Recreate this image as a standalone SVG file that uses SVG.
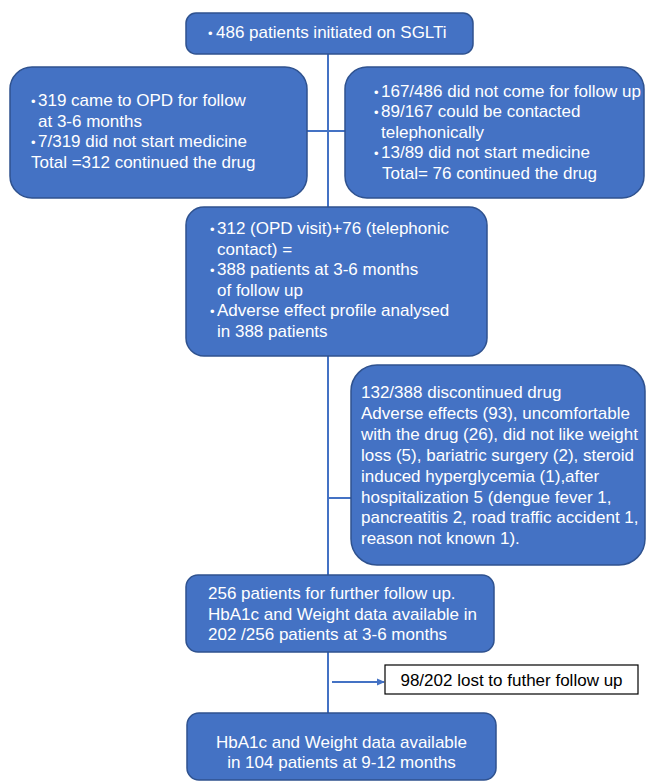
<svg xmlns="http://www.w3.org/2000/svg" width="646" height="784" viewBox="0 0 646 784">
<style>
.box{fill:#4472C4;stroke:#2F528F;stroke-width:1.5}
.t{font-family:"Liberation Sans",Arial,sans-serif;font-size:17px;fill:#FFFFFF}
.k{font-family:"Liberation Sans",Arial,sans-serif;font-size:17px;fill:#000000}
.b{font-size:13px}
.c{stroke:#4472C4;stroke-width:2;fill:none}
</style>
<defs>
<marker id="ah" markerWidth="8" markerHeight="8" refX="7" refY="4" orient="auto" markerUnits="userSpaceOnUse">
<path d="M0,0.5 L8,4 L0,7.5 Z" fill="#4472C4"/>
</marker>
</defs>
<rect width="646" height="784" fill="#FFFFFF"/>
<g id="connectors">
<line class="c" x1="328" y1="54" x2="328" y2="713"/>
<line class="c" x1="307" y1="131" x2="345" y2="131"/>
<line class="c" x1="328" y1="498" x2="351" y2="498"/>
<line class="c" x1="332" y1="682" x2="384" y2="682" marker-end="url(#ah)"/>
</g>
<g id="n1">
<rect class="box" x="186" y="13" width="287" height="41" rx="10"/>
<text class="t" x="208" y="38"><tspan class="b">•</tspan><tspan x="216">486 patients initiated on SGLTi</tspan></text>
</g>
<g id="n2">
<rect class="box" x="10" y="67" width="297" height="131" rx="22"/>
<text class="t" x="31" y="106"><tspan class="b">•</tspan><tspan x="38">319 came to OPD for follow</tspan></text>
<text class="t" x="38" y="126.5">at 3-6 months</text>
<text class="t" x="31" y="147"><tspan class="b">•</tspan><tspan x="38">7/319 did not start medicine</tspan></text>
<text class="t" x="31" y="168">Total =312 continued the drug</text>
</g>
<g id="n3">
<rect class="box" x="345" y="67" width="299" height="131" rx="22"/>
<text class="t" x="374" y="97"><tspan class="b">•</tspan><tspan x="381">167/486 did not come for follow up</tspan></text>
<text class="t" x="374" y="117"><tspan class="b">•</tspan><tspan x="381">89/167 could be contacted</tspan></text>
<text class="t" x="381" y="137.5">telephonically</text>
<text class="t" x="374" y="158"><tspan class="b">•</tspan><tspan x="381">13/89 did not start medicine</tspan></text>
<text class="t" x="382" y="178.5">Total= 76 continued the drug</text>
</g>
<g id="n4">
<rect class="box" x="186" y="207" width="301" height="149" rx="18"/>
<text class="t" x="210" y="234"><tspan class="b">•</tspan><tspan x="217">312 (OPD visit)+76 (telephonic</tspan></text>
<text class="t" x="217" y="254.5">contact) =</text>
<text class="t" x="210" y="275"><tspan class="b">•</tspan><tspan x="217">388 patients at 3-6 months</tspan></text>
<text class="t" x="217" y="295.5">of follow up</text>
<text class="t" x="210" y="316"><tspan class="b">•</tspan><tspan x="217">Adverse effect profile analysed</tspan></text>
<text class="t" x="217" y="336.5">in 388 patients</text>
</g>
<g id="n5">
<rect class="box" x="351" y="365" width="294" height="200" rx="26"/>
<text class="t" x="361" y="398">132/388 discontinued drug</text>
<text class="t" x="361" y="419">Adverse effects (93), uncomfortable</text>
<text class="t" x="361" y="440">with the drug (26), did not like weight</text>
<text class="t" x="361" y="461">loss (5), bariatric surgery (2), steroid</text>
<text class="t" x="361" y="481.5">induced hyperglycemia (1),after</text>
<text class="t" x="361" y="502.5">hospitalization 5 (dengue fever 1,</text>
<text class="t" x="361" y="523">pancreatitis 2, road traffic accident 1,</text>
<text class="t" x="361" y="543.5">reason not known 1).</text>
</g>
<g id="n6">
<rect class="box" x="186" y="575" width="308" height="77" rx="12"/>
<text class="t" x="208" y="599">256 patients for further follow up.</text>
<text class="t" x="208" y="619.5">HbA1c and Weight data available in</text>
<text class="t" x="208" y="640">202 /256 patients at 3-6 months</text>
</g>
<g id="n7">
<rect x="385" y="665" width="253" height="29" fill="#FFFFFF" stroke="#000000" stroke-width="1.2"/>
<text class="k" x="511.5" y="686" text-anchor="middle">98/202 lost to futher follow up</text>
</g>
<g id="n8">
<rect class="box" x="187" y="713" width="309" height="67" rx="12"/>
<text class="t" x="341.5" y="748" text-anchor="middle">HbA1c and Weight data available</text>
<text class="t" x="341.5" y="768" text-anchor="middle">in 104 patients at 9-12 months</text>
</g>
</svg>
